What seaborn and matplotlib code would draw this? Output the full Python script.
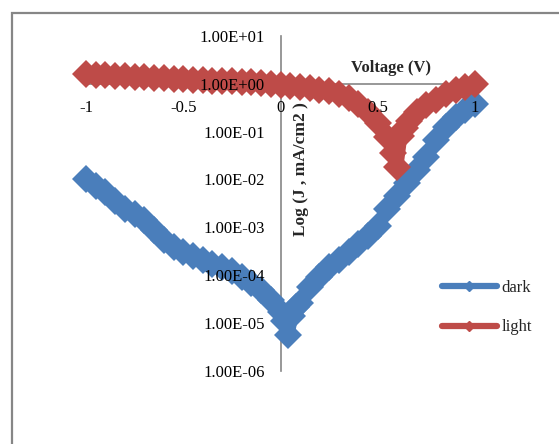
import numpy as np
import pandas as pd
import matplotlib
matplotlib.use("Agg")
import matplotlib.pyplot as plt
from matplotlib.lines import Line2D
from matplotlib.patches import Rectangle
import seaborn as sns

# dark current (mA/cm2) vs voltage
dark_v = [-1.00, -0.95, -0.90, -0.85, -0.80, -0.75, -0.70, -0.65, -0.60, -0.55,
          -0.50, -0.45, -0.40, -0.35, -0.30, -0.25, -0.20, -0.15, -0.10, -0.05,
          0.00, 0.02, 0.04, 0.06, 0.08, 0.10, 0.15, 0.20, 0.25, 0.30,
          0.35, 0.40, 0.45, 0.50, 0.55, 0.60, 0.65, 0.70, 0.75, 0.80,
          0.85, 0.90, 0.95, 1.00]
dark_j = [1.0e-2, 7.2e-3, 5.4e-3, 3.5e-3, 2.4e-3, 1.9e-3, 1.4e-3, 8.9e-4, 5.5e-4, 3.8e-4,
          3.0e-4, 2.5e-4, 2.1e-4, 1.7e-4, 1.45e-4, 1.2e-4, 9.1e-5, 6.9e-5, 4.8e-5, 3.0e-5,
          1.7e-5, 1.1e-5, 5.6e-6, 1.4e-5, 2.1e-5, 2.6e-5, 5.6e-5, 9.1e-5, 1.45e-4, 2.1e-4,
          3.0e-4, 4.4e-4, 6.6e-4, 1.07e-3, 2.4e-3, 4.5e-3, 8.5e-3, 1.6e-2, 3.0e-2, 6.6e-2,
          0.126, 0.20, 0.28, 0.38]

# light current (mA/cm2) vs voltage
light_v = [-1.00, -0.95, -0.90, -0.85, -0.80, -0.75, -0.70, -0.65, -0.60, -0.55,
           -0.50, -0.45, -0.40, -0.35, -0.30, -0.25, -0.20, -0.15, -0.10, -0.05,
           0.00, 0.05, 0.10, 0.15, 0.20, 0.25, 0.30, 0.35, 0.40, 0.45,
           0.50, 0.55, 0.58, 0.60, 0.62, 0.64, 0.66, 0.70, 0.75, 0.80,
           0.85, 0.90, 0.95, 1.00]
light_j = [1.58, 1.55, 1.51, 1.48, 1.45, 1.41, 1.38, 1.35, 1.32, 1.29,
           1.26, 1.23, 1.20, 1.17, 1.15, 1.12, 1.10, 1.07, 1.05, 1.00,
           0.955, 0.912, 0.871, 0.813, 0.759, 0.692, 0.603, 0.501, 0.380, 0.263,
           0.151, 0.0759, 0.0355, 0.0186, 0.0794, 0.120, 0.166, 0.263, 0.355, 0.468,
           0.617, 0.759, 0.871, 0.977]

y_ticks = [1e-6, 1e-5, 1e-4, 1e-3, 1e-2, 1e-1, 1e0, 1e1]
x_ticks = [-1, -0.5, 0, 0.5, 1]
x_labels = ["-1", "-0.5", "0", "0.5", "1"]

blue = "#4A7EBB"
red = "#BE4B48"
gray = "#868686"

sns.set_style("white")
plt.rcParams["font.family"] = ["Liberation Serif", "DejaVu Serif"]

fig = plt.figure(figsize=(5.59, 4.44), dpi=100)
ax = fig.add_axes([86 / 559, 1 - 370.7 / 444, 389 / 559, 334.7 / 444])

# chart area border
fig.patches.append(Rectangle((11.7 / 559, -0.2), 1.2, 1.2 - 12.7 / 444,
                             transform=fig.transFigure, fill=False,
                             edgecolor=gray, linewidth=1.6, zorder=0))

df_dark = pd.DataFrame({"V": dark_v, "J": dark_j})
df_light = pd.DataFrame({"V": light_v, "J": light_j})

style = dict(marker="D", markersize=14, markeredgewidth=0, linewidth=9,
             estimator=None, sort=False, clip_on=False, zorder=2)
sns.lineplot(data=df_dark, x="V", y="J", color=blue, markerfacecolor=blue, ax=ax, **style)
sns.lineplot(data=df_light, x="V", y="J", color=red, markerfacecolor=red, ax=ax, **style)

ax.set_yscale("log")
ax.set_xlim(-1, 1)
ax.set_ylim(1e-6, 1e1)

ax.set_yticks(y_ticks)
ax.set_yticklabels([f"{t:.2E}" for t in y_ticks])
ax.set_xticks(x_ticks)
ax.set_xticklabels(x_labels)
ax.minorticks_off()

for s in ["top", "right"]:
    ax.spines[s].set_visible(False)
ax.spines["left"].set_position(("data", 0))
ax.spines["bottom"].set_position(("data", 1))
for s in ["left", "bottom"]:
    ax.spines[s].set_color(gray)
    ax.spines[s].set_linewidth(1.2)
    ax.spines[s].set_zorder(1)

ax.tick_params(axis="both", which="both", direction="out", length=3.5, width=1.2,
               color=gray, labelsize=12, labelcolor="black")
ax.tick_params(axis="y", pad=8)
ax.tick_params(axis="x", pad=8)
ax.xaxis.set_zorder(3)
ax.yaxis.set_zorder(3)

ax.set_xlabel("Voltage (V)", fontsize=12, fontweight="bold")
ax.xaxis.set_label_coords(0.784, 0.9035)
ax.xaxis.label.set_va("center")
ax.set_ylabel("Log (J , mA/cm2 )", fontsize=12.5, fontweight="bold")
ax.yaxis.set_label_coords(0.553, 0.6026)
ax.yaxis.label.set_va("center")

handles = [Line2D([], [], color=blue, lw=4.5, marker="D", ms=5, solid_capstyle="round"),
           Line2D([], [], color=red, lw=4.5, marker="D", ms=5, solid_capstyle="round")]
fig.legend(handles, ["dark", "light"], loc="upper left",
           bbox_to_anchor=(441.7 / 559, 1 - 280 / 444), frameon=False, fontsize=12,
           handlelength=3.3, handletextpad=0.3, labelspacing=1.4,
           borderpad=0, borderaxespad=0)

fig.savefig("out.png", dpi=100)
